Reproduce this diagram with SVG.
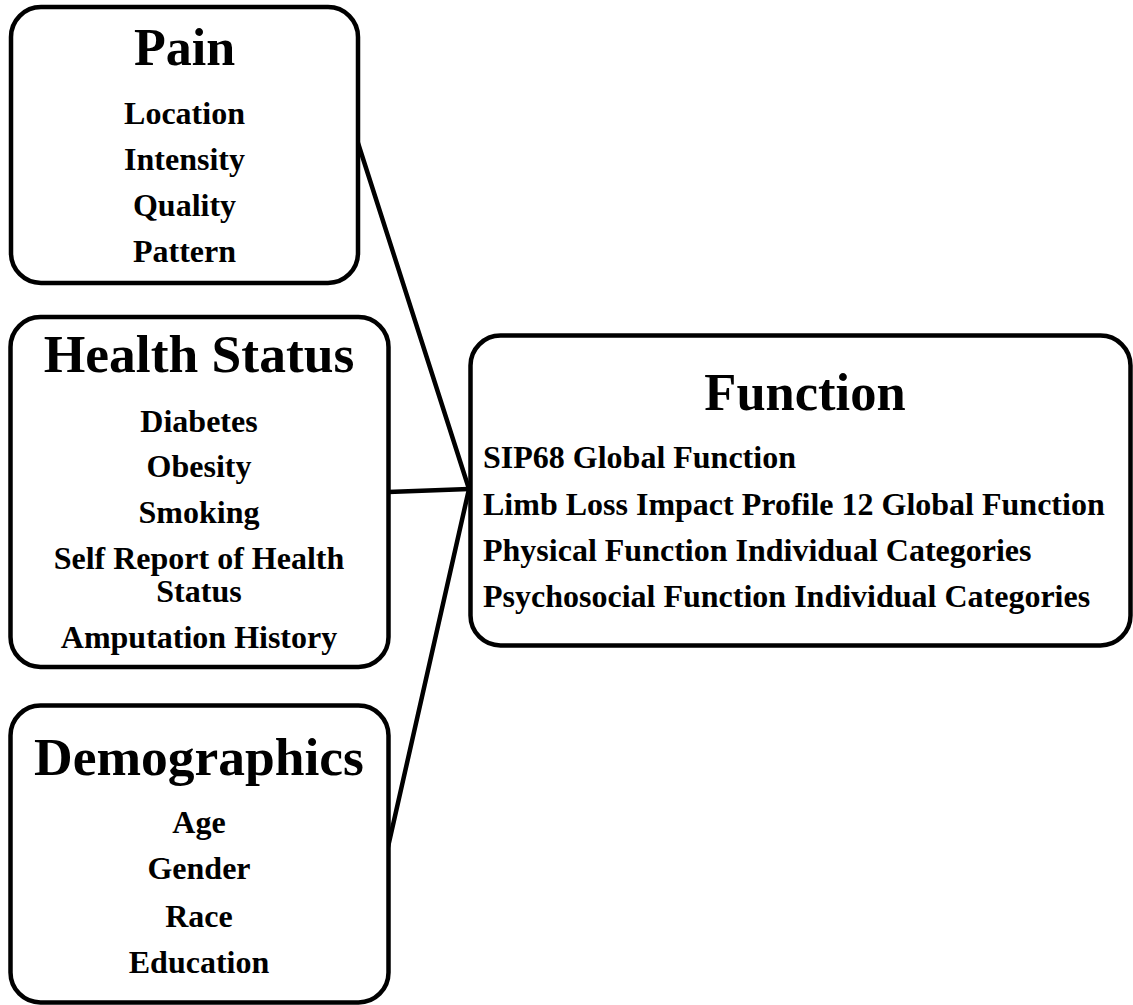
<svg xmlns="http://www.w3.org/2000/svg" width="1133" height="1005" viewBox="0 0 1133 1005">
<style>
.box{fill:#fff;stroke:#000;stroke-width:4.5}
.conn{stroke:#000;stroke-width:4.5;fill:none;stroke-linecap:round}
text{font-family:"Liberation Serif","Times New Roman",serif;font-weight:bold;fill:#000}
.title{font-size:53.5px;text-anchor:middle}
.item{font-size:32px;text-anchor:middle}
.fitem{font-size:32px;text-anchor:start}
</style>
<rect width="1133" height="1005" fill="#fff"/>
<g id="connectors">
<line class="conn" x1="358" y1="143" x2="469" y2="489"/>
<line class="conn" x1="388" y1="492" x2="469" y2="489"/>
<line class="conn" x1="388" y1="847" x2="469" y2="489"/>
</g>
<g id="pain">
<rect class="box" x="11" y="7" width="347" height="276" rx="30"/>
<text class="title" x="184.5" y="65" style="font-size:52px">Pain</text>
<text class="item" x="184.5" y="124">Location</text>
<text class="item" x="184.5" y="170">Intensity</text>
<text class="item" x="184.5" y="216">Quality</text>
<text class="item" x="184.5" y="262">Pattern</text>
</g>
<g id="health">
<rect class="box" x="10.5" y="317" width="378" height="350" rx="30"/>
<text class="title" x="199" y="372">Health Status</text>
<text class="item" x="199" y="432">Diabetes</text>
<text class="item" x="199" y="477">Obesity</text>
<text class="item" x="199" y="523">Smoking</text>
<text class="item" x="199" y="569">Self Report of Health</text>
<text class="item" x="199" y="602">Status</text>
<text class="item" x="199" y="648">Amputation History</text>
</g>
<g id="demographics">
<rect class="box" x="10.5" y="705.5" width="378" height="297" rx="30"/>
<text class="title" x="199" y="775">Demographics</text>
<text class="item" x="199" y="833">Age</text>
<text class="item" x="199" y="879">Gender</text>
<text class="item" x="199" y="927">Race</text>
<text class="item" x="199" y="973">Education</text>
</g>
<g id="function">
<rect class="box" x="470.5" y="335.5" width="660" height="310" rx="30"/>
<text class="title" x="805" y="410" style="font-size:52.5px">Function</text>
<text class="fitem" x="483" y="468">SIP68 Global Function</text>
<text class="fitem" x="483" y="515">Limb Loss Impact Profile 12 Global Function</text>
<text class="fitem" x="483" y="561">Physical Function Individual Categories</text>
<text class="fitem" x="483" y="607">Psychosocial Function Individual Categories</text>
</g>
</svg>
